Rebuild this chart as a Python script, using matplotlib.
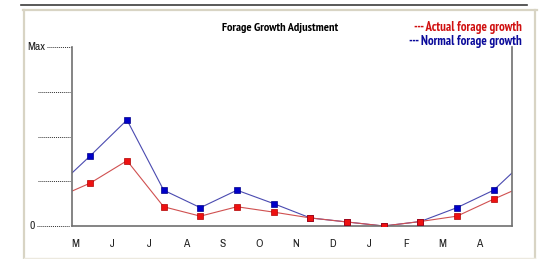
import matplotlib
matplotlib.use("Agg")
import matplotlib.pyplot as plt
from matplotlib.lines import Line2D
from matplotlib import font_manager as fm
import matplotlib.transforms as mtransforms
import numpy as np

months = ["M", "J", "J", "A", "S", "O", "N", "D", "J", "F", "M", "A"]
normal_growth = [1.57, 2.37, 0.80, 0.41, 0.80, 0.50, 0.18, 0.09, 0.00, 0.10, 0.41, 0.80]
actual_growth = [0.96, 1.46, 0.43, 0.22, 0.43, 0.31, 0.18, 0.09, 0.00, 0.10, 0.22, 0.60]
y_tick_values = [0, 1, 2, 3, 4]
y_tick_labels = ["0", "", "", "", "Max"]


def narrow_font(bold, size):
    """Find a condensed font file if one is installed."""
    cands = []
    for f in fm.fontManager.ttflist:
        fn = f.fname.lower()
        is_bold = ("bold" in fn) or (f.weight in ("bold", 700, "heavy"))
        if bold != is_bold:
            continue
        if "oblique" in fn or "italic" in fn:
            continue
        if "narrow" in fn:
            cands.append((0, f.fname))
        elif "condensed" in fn and "semi" not in fn:
            cands.append((1, f.fname))
    if cands:
        cands.sort()
        return fm.FontProperties(fname=cands[0][1], size=size)
    return fm.FontProperties(family=["Roboto", "DejaVu Sans"],
                             weight="bold" if bold else "normal", size=size - 0.5)


fp_title = narrow_font(True, 8.8)
fp_leg = narrow_font(True, 9.3)
fp_reg = narrow_font(False, 8.3)

fig = plt.figure(figsize=(5.4, 2.59), dpi=100)
fig.patch.set_facecolor("white")
W, H = 540.0, 259.0


def fx(px):
    return px / W


def fy(py):
    return 1 - py / H


# window frame
fig.add_artist(Line2D([fx(21), fx(527)], [fy(5), fy(5)], color="#3c3c3c", lw=1.2))
beige = "#d8d4c4"
fig.add_artist(Line2D([fx(23), fx(537)], [fy(10), fy(10)], color=beige, lw=1.6))
fig.add_artist(Line2D([fx(24), fx(24)], [fy(10), fy(259)], color=beige, lw=1.6))
fig.add_artist(Line2D([fx(535), fx(535)], [fy(10), fy(259)], color=beige, lw=1.6))
fig.add_artist(Line2D([fx(24), fx(535)], [fy(258), fy(258)], color="#ece9df", lw=1.0))

ax = fig.add_axes([fx(72), fy(226), fx(512) - fx(72), fy(47) - fy(226)])
ax.set_xlim(0, 12)
ax.set_ylim(0, 4)
ax.set_facecolor("white")

n = len(months)
xs = np.arange(n) + 0.5
# wrap-around so the lines reach both edges (clipped by axes)
xw = np.concatenate([[xs[-1] - n], xs, [xs[0] + n]])
nw = np.concatenate([[normal_growth[-1]], normal_growth, [normal_growth[0]]])
aw = np.concatenate([[actual_growth[-1]], actual_growth, [actual_growth[0]]])

ax.plot(xw, nw, color="#4a4ab0", lw=0.8, zorder=2)
ax.plot(xs, normal_growth, ls="none", marker="s", ms=5.0, mfc="#0000c8", mec="#00008a", mew=0.5, zorder=3)
ax.plot(xw, aw, color="#d05050", lw=0.8, zorder=2)
ax.plot(xs, actual_growth, ls="none", marker="s", ms=5.0, mfc="#ee1111", mec="#b00000", mew=0.5, zorder=3)

for s in ["left", "bottom", "right"]:
    ax.spines[s].set_color("#707070")
    ax.spines[s].set_linewidth(1.2)
ax.spines["top"].set_visible(False)

ax.set_xticks([])
ax.set_yticks([])

# month labels, near the month start
for i, m in enumerate(months):
    ax.text(i + 0.1, -0.4, m, ha="center", va="center", fontproperties=fp_reg, color="#202020")

# y dotted tick lines and labels
trans = mtransforms.blended_transform_factory(ax.transAxes, ax.transData)
axw = 440.0
for v, lab in zip(y_tick_values, y_tick_labels):
    if lab == "Max":
        x0 = (47 - 72) / axw
    elif lab == "0":
        x0 = (37 - 72) / axw
    else:
        x0 = (38 - 72) / axw
    x1 = (70 - 72) / axw if lab != "Max" else 0
    ax.add_line(Line2D([x0, x1], [v, v], transform=trans, color="#303030",
                       lw=0.7, ls=(0, (1, 1)), clip_on=False))
    if lab:
        ax.text(x0 - 2 / axw, v, lab, transform=trans, ha="right", va="center",
                fontproperties=fp_reg, color="#202020")

# title and legend
fig.text(fx(280), fy(28), "Forage Growth Adjustment", ha="center", va="center",
         fontproperties=fp_title, color="black")
fig.text(fx(522), fy(27), "--- Actual forage growth", ha="right", va="center",
         fontproperties=fp_leg, color="#d01010")
fig.text(fx(522), fy(41), "--- Normal forage growth", ha="right", va="center",
         fontproperties=fp_leg, color="#0a0a9a")

fig.savefig("out.png", dpi=100, facecolor="white")
